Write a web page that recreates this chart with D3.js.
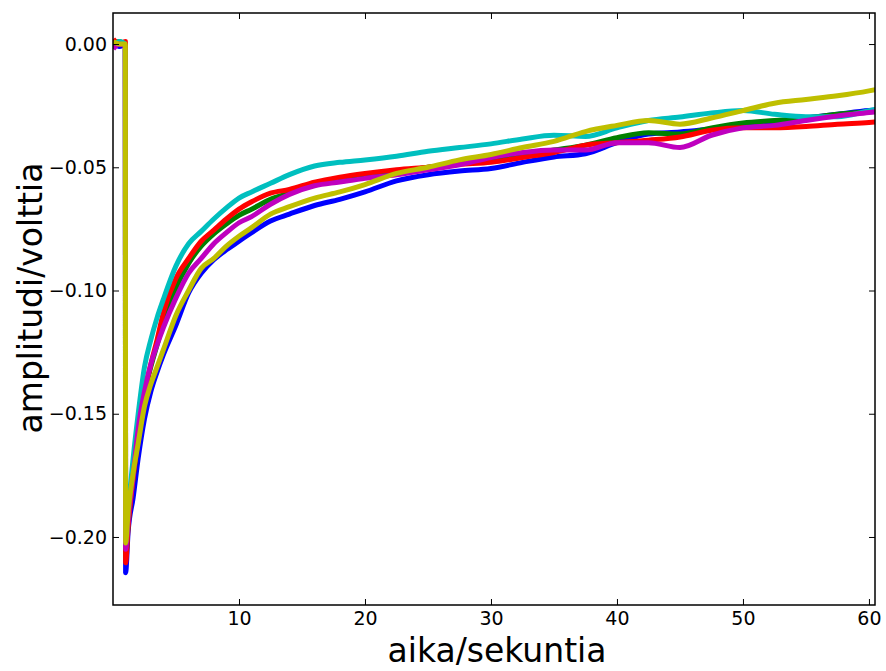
<!DOCTYPE html>
<html>
<head>
<meta charset="utf-8">
<script src="https://cdn.jsdelivr.net/npm/d3@7"></script>
<style>
  html, body { margin: 0; padding: 0; background: #ffffff; }
  svg { display: block; }
  text { font-family: "DejaVu Sans", sans-serif; fill: #000; }
</style>
</head>
<body>
<svg id="chart" width="886" height="671"></svg>
<script>
// Sample times (seconds) shared by all traces
const times = [0.02, 0.5, 0.98, 1.0, 1.2, 1.6, 2.0, 2.5, 3.0, 3.5, 4.0, 5.0, 6.0, 7.0, 8.0, 9.0, 10.0, 11.0, 12.5, 14.0, 16.0, 18.0, 20.0, 22.5, 25.0, 27.5, 30.0, 32.5, 35.0, 37.5, 40.0, 42.5, 45.0, 47.5, 50.0, 52.5, 55.0, 57.5, 60.0, 60.5];

// Amplitude (V) of each measurement run
const blueRun = [0.001, -0.001, 0.000, -0.2145, -0.198, -0.184, -0.168, -0.152, -0.141, -0.133, -0.126, -0.114, -0.101, -0.093, -0.0875, -0.0835, -0.080, -0.0765, -0.0718, -0.069, -0.0655, -0.063, -0.060, -0.0555, -0.053, -0.0515, -0.0505, -0.048, -0.0458, -0.0445, -0.040, -0.0365, -0.0357, -0.0345, -0.0333, -0.0318, -0.030, -0.0285, -0.027, -0.0268];
const greenRun = [0.000, 0.001, -0.001, -0.208, -0.195, -0.176, -0.159, -0.142, -0.131, -0.122, -0.113, -0.099, -0.089, -0.082, -0.077, -0.073, -0.0695, -0.067, -0.063, -0.0605, -0.057, -0.055, -0.0535, -0.052, -0.050, -0.0485, -0.047, -0.045, -0.043, -0.041, -0.038, -0.036, -0.0365, -0.034, -0.032, -0.031, -0.030, -0.0285, -0.0275, -0.0273];
const redRun = [0.002, 0.000, 0.001, -0.2105, -0.196, -0.176, -0.160, -0.142, -0.130, -0.120, -0.109, -0.095, -0.087, -0.080, -0.0755, -0.071, -0.067, -0.064, -0.0605, -0.059, -0.056, -0.054, -0.0525, -0.051, -0.050, -0.0488, -0.048, -0.046, -0.044, -0.041, -0.040, -0.039, -0.0377, -0.035, -0.034, -0.034, -0.0335, -0.0325, -0.0318, -0.0316];
const cyanRun = [-0.001, 0.001, 0.000, -0.203, -0.190, -0.168, -0.150, -0.131, -0.120, -0.111, -0.1035, -0.090, -0.081, -0.076, -0.071, -0.0665, -0.0625, -0.060, -0.0565, -0.053, -0.0495, -0.048, -0.047, -0.0455, -0.0435, -0.042, -0.0405, -0.0385, -0.037, -0.0375, -0.034, -0.031, -0.0296, -0.028, -0.027, -0.0285, -0.0295, -0.0295, -0.027, -0.0265];
const magentaRun = [-0.002, 0.000, -0.001, -0.205, -0.193, -0.175, -0.156, -0.141, -0.130, -0.122, -0.115, -0.103, -0.093, -0.087, -0.081, -0.0765, -0.0725, -0.070, -0.065, -0.061, -0.0575, -0.056, -0.0545, -0.053, -0.051, -0.049, -0.046, -0.044, -0.043, -0.043, -0.040, -0.040, -0.042, -0.037, -0.034, -0.033, -0.031, -0.0292, -0.0278, -0.0275];
const yellowRun = [0.001, 0.000, 0.000, -0.2024, -0.190, -0.174, -0.162, -0.147, -0.138, -0.131, -0.124, -0.110, -0.100, -0.091, -0.087, -0.082, -0.078, -0.0745, -0.069, -0.066, -0.0625, -0.060, -0.057, -0.0525, -0.050, -0.047, -0.0448, -0.042, -0.0395, -0.0355, -0.033, -0.031, -0.0325, -0.030, -0.027, -0.024, -0.0225, -0.021, -0.019, -0.0185];

const runs = [blueRun, greenRun, redRun, cyanRun, magentaRun, yellowRun];
const runColors = ["#0000ff", "#008000", "#ff0000", "#00bfbf", "#bf00bf", "#bfbf00"];

const xTicks = [10, 20, 30, 40, 50, 60];
const yTicks = [0.00, -0.05, -0.10, -0.15, -0.20];

const xTitle = "aika/sekuntia";
const yTitle = "amplitudi/volttia";

const svg = d3.select("#chart");
const W = 886, H = 671;
const m = { top: 13, right: 11, bottom: 66, left: 113 };
const iw = W - m.left - m.right, ih = H - m.top - m.bottom;

const x = d3.scaleLinear().domain([0, 60.48]).range([0, iw]);
const y = d3.scaleLinear().domain([-0.2276, 0.0126]).range([ih, 0]);

svg.append("rect").attr("width", W).attr("height", H).attr("fill", "#fff");

const g = svg.append("g").attr("transform", `translate(${m.left},${m.top})`);

g.append("clipPath").attr("id", "plotclip")
  .append("rect").attr("width", iw).attr("height", ih);

const line = d3.line()
  .x((d, i) => x(times[i]))
  .y(d => y(d))
  .curve(d3.curveMonotoneX);

const traces = g.append("g").attr("clip-path", "url(#plotclip)");
runs.forEach((vals, k) => {
  traces.append("path")
    .datum(vals)
    .attr("d", line)
    .attr("fill", "none")
    .attr("stroke", runColors[k])
    .attr("stroke-width", 5)
    .attr("stroke-linejoin", "round")
    .attr("stroke-linecap", "butt");
});

// Axes with inward ticks on all four sides
const tickLen = 6;
const axBottom = d3.axisBottom(x).tickValues(xTicks).tickSizeInner(-tickLen).tickSizeOuter(0).tickPadding(7).tickFormat(d3.format("d"));
const axTop = d3.axisTop(x).tickValues(xTicks).tickSizeInner(-tickLen).tickSizeOuter(0).tickFormat("");
const axLeft = d3.axisLeft(y).tickValues(yTicks).tickSizeInner(-tickLen).tickSizeOuter(0).tickPadding(6).tickFormat(d3.format(".2f"));
const axRight = d3.axisRight(y).tickValues(yTicks).tickSizeInner(-tickLen).tickSizeOuter(0).tickFormat("");

function styleAxis(sel) {
  sel.select(".domain").remove();
  sel.selectAll(".tick line").attr("stroke", "#000").attr("stroke-width", 1);
  sel.selectAll(".tick text")
    .style("font-family", "'DejaVu Sans', sans-serif")
    .style("font-size", "19px")
    .attr("fill", "#000");
}

g.append("g").attr("transform", `translate(0,${ih})`).call(axBottom).call(styleAxis);
g.append("g").call(axTop).call(styleAxis);
g.append("g").call(axLeft).call(styleAxis);
g.append("g").attr("transform", `translate(${iw},0)`).call(axRight).call(styleAxis);

// Use a true minus sign for negative tick values
g.selectAll(".tick text").text(function () { return this.textContent.replace("-", "\u2212"); });

// Frame
g.append("rect")
  .attr("width", iw).attr("height", ih)
  .attr("fill", "none").attr("stroke", "#000").attr("stroke-width", 1.5);

// Axis titles
svg.append("text")
  .attr("x", m.left + iw / 2 + 3).attr("y", 662)
  .attr("text-anchor", "middle")
  .style("font-size", "33px")
  .text(xTitle);

svg.append("text")
  .attr("transform", `translate(42,${298}) rotate(-90)`)
  .attr("text-anchor", "middle")
  .style("font-size", "33px")
  .text(yTitle);
</script>
</body>
</html>
